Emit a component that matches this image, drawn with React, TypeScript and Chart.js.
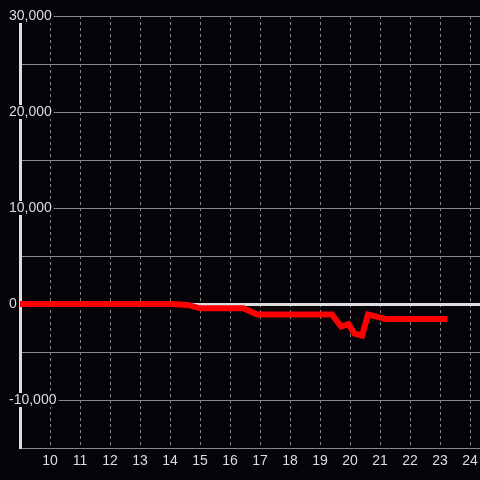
import React, { useEffect, useRef } from "react";
import { Chart, registerables } from "chart.js";

Chart.register(...registerables);

const hours = [9, 14, 14.6, 15, 16.45, 16.9, 19.4, 19.7, 19.95, 20.15, 20.4, 20.6, 21.2, 23.25];
const values = [0, 0, -100, -450, -450, -1100, -1100, -2350, -2100, -3100, -3300, -1100, -1550, -1550];
const yTickLabels = [30000, 20000, 10000, 0, -10000];

const X_MIN = 9;
const X_MAX = 24.333;

const BG = "#050308";
const TEXT = "#dddddd";
const GRID = "#888888";
const FONT = "'Liberation Sans', Arial, sans-serif";

export default function App() {
  const ref = useRef<HTMLCanvasElement | null>(null);

  useEffect(() => {
    if (!ref.current) return;
    const chart = new Chart(ref.current, {
      type: "line",
      data: {
        datasets: [
          {
            data: hours.map((h, i) => ({ x: h, y: values[i] })),
            borderColor: "#ff0000",
            backgroundColor: "#ff0000",
            borderWidth: 6,
            pointRadius: 0,
            tension: 0,
            fill: false,
            clip: 0,
          },
        ],
      },
      options: {
        animation: false,
        responsive: true,
        maintainAspectRatio: false,
        layout: { padding: { top: 16, left: 0, right: 0, bottom: 0 } },
        plugins: { legend: { display: false }, tooltip: { enabled: false } },
        scales: {
          x: {
            type: "linear",
            min: X_MIN,
            max: X_MAX,
            afterBuildTicks: (s: any) => {
              const t = s.ticks.filter((tk: any) => tk.value > X_MIN && tk.value <= 24);
              t.push({ value: X_MAX });
              s.ticks = t;
            },
            ticks: {
              stepSize: 1,
              includeBounds: false,
              autoSkip: false,
              maxRotation: 0,
              color: TEXT,
              padding: 0,
              font: { size: 14, family: FONT, lineHeight: 26 / 14 },
              callback: (v: any) => (Number.isInteger(v) ? String(v) : ""),
            },
            grid: {
              color: (ctx: any) =>
                ctx.tick && !Number.isInteger(ctx.tick.value) ? "rgba(0,0,0,0)" : GRID,
              lineWidth: 1,
              drawTicks: false,
            },
            border: { display: false, dash: [3, 3] },
            afterFit: (s: any) => {
              s.height = 32;
            },
          },
          y: {
            min: -15000,
            max: 30000,
            ticks: {
              stepSize: 5000,
              mirror: true,
              padding: -11,
              color: TEXT,
              font: { size: 14, family: FONT, lineHeight: 1 },
              showLabelBackdrop: true,
              backdropColor: BG,
              backdropPadding: { top: 0, bottom: 0, left: 2, right: 2 },
              callback: (v: any) =>
                yTickLabels.includes(v) ? Number(v).toLocaleString("en-US") : "",
            },
            grid: {
              drawTicks: false,
              color: (ctx: any) => (ctx.tick && ctx.tick.value === 0 ? TEXT : GRID),
              lineWidth: (ctx: any) => (ctx.tick && ctx.tick.value === 0 ? 3 : 1),
            },
            border: { color: TEXT, width: 3 },
            afterFit: (s: any) => {
              s.width = 20;
            },
          },
        },
      },
    });
    return () => chart.destroy();
  }, []);

  return (
    <div
      style={{
        position: "fixed",
        left: 0,
        top: 0,
        width: 480,
        height: 480,
        background: BG,
      }}
    >
      <canvas ref={ref} />
    </div>
  );
}
